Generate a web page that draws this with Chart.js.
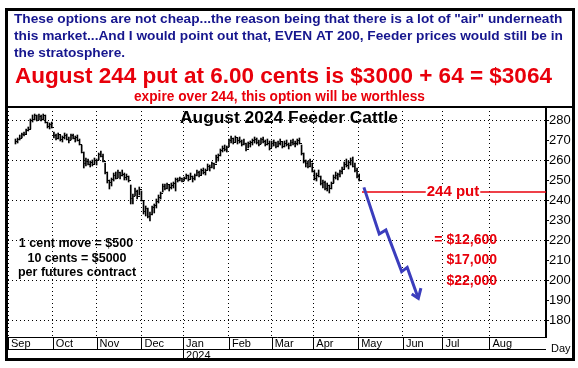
<!DOCTYPE html>
<html>
<head>
<meta charset="utf-8">
<script src="https://cdn.jsdelivr.net/npm/chart.js@4.4.1/dist/chart.umd.min.js"></script>
<style>
  html, body { margin: 0; padding: 0; background: #fff; }
  canvas { display: block; }
</style>
</head>
<body>
<canvas id="chart" width="578" height="368"></canvas>
<script>
// trading-day index of each month start (Sep 2023 .. Aug 2024)
const monthStarts = [0, 21, 41.5, 62.5, 82, 103.5, 123.5, 143, 164, 185, 203.5, 225.5];
const monthLabels = ["Sep", "Oct", "Nov", "Dec", ["Jan", "2024"], "Feb", "Mar", "Apr", "May", "Jun", "Jul", "Aug"];
const priceTicks = [180, 190, 200, 210, 220, 230, 240, 250, 260, 270, 280];

// daily bars, first one on day index 3.5
const firstDay = 3.5;
const highs = [
  270.5, 271, 272.5, 273.5, 274, 275.5, 276.5, 280.5, 282.5, 283,
  282.5, 283, 282.5, 283, 282.5, 279, 278.5, 279, 274, 273,
  273.5, 272.5, 272, 273.5, 273, 271.5, 273, 273, 272, 272.5,
  270.5, 267.5, 264, 261, 260.5, 259.5, 260, 261, 260.5, 263.5,
  264.5, 263, 258.5, 254, 250, 251, 253.5, 254, 255, 254,
  255, 253.5, 253, 252, 247.5, 243, 246, 245, 246.5, 244.5,
  239.5, 237, 236, 234, 237, 238, 240.5, 242.5, 244, 248,
  248, 248.5, 247.5, 248.5, 249, 251, 251, 251.5, 251, 251.5,
  253, 252.5, 253.5, 252, 253, 255, 254.5, 255.5, 256, 255.5,
  258, 257.5, 259, 258.5, 262.5, 263, 265.5, 267, 267.5, 267,
  270.5, 272, 271, 272, 271, 271.5, 270, 270.5, 268.5, 269,
  269.5, 270.5, 271.5, 271, 270, 271, 271.5, 270, 270.5, 269.5,
  269.5, 270, 269, 269.5, 270.5, 269, 269.5, 270, 268.5, 270,
  270.5, 269.5, 270.5, 271, 267.5, 263.5, 260, 259.5, 260.5, 258.5,
  255, 253.5, 255, 252, 250, 249.5, 248.5, 247.5, 249, 252.5,
  254, 253.5, 255, 256.5, 259, 260.5, 259.5, 261, 261.5, 258.5,
  256, 253
];
const lows = [
  268, 268.5, 270, 271, 272, 273, 274.5, 275.5, 279, 280,
  279.5, 280, 279.5, 280, 278.5, 276, 275.5, 276, 271, 270,
  270.5, 269.5, 269, 270.5, 270, 268.5, 270, 270.5, 269, 269.5,
  267.5, 263.5, 256, 257, 257.5, 256.5, 257, 258, 257.5, 260,
  261.5, 259, 253, 248.5, 245.5, 247, 249.5, 250.5, 251, 250.5,
  252, 250, 250, 249, 238, 238, 242, 240.5, 242.5, 239.5,
  233, 232, 231, 229.5, 232.5, 233.5, 236, 238.5, 240.5, 244,
  245, 245.5, 244.5, 245.5, 246, 244.5, 249, 249.5, 249, 249.5,
  250.5, 249.5, 250.5, 249, 250, 252, 251.5, 252.5, 253, 252.5,
  255, 254.5, 256, 255.5, 258.5, 259.5, 262, 264, 264.5, 264,
  266.5, 268.5, 268, 269, 268, 268.5, 267, 267.5, 264.5, 266,
  266.5, 267.5, 268.5, 268, 267, 268, 268.5, 267, 267.5, 265,
  266.5, 267, 266, 266.5, 267.5, 266, 266.5, 267, 265.5, 267,
  267.5, 266.5, 267.5, 268, 262.5, 258.5, 256.5, 256, 256.5, 254,
  250, 249.5, 251.5, 247.5, 246, 245, 244.5, 243.5, 245.5, 248.5,
  250.5, 250, 251.5, 253, 255.5, 256.5, 255.5, 257.5, 256.5, 254,
  251, 249.5
];
const closes = [
  269.5, 270.5, 271, 273, 273, 275, 275.5, 280, 280.5, 282.5,
  280, 282, 280.5, 282.5, 279, 277, 278, 276.5, 272.5, 271,
  273, 270.5, 271.5, 272.5, 270.5, 270, 272.5, 271, 271.5, 270,
  268, 264, 258.5, 259.5, 258, 259, 258, 260, 260, 263,
  262, 259.5, 254, 250, 249, 250.5, 252.5, 251, 254, 252.5,
  253, 251.5, 252, 250, 241, 242, 244.5, 242, 245.5, 240,
  234.5, 236, 232, 233, 236.5, 237.5, 239.5, 241.5, 243.5, 247,
  246, 248, 246.5, 247.5, 248.5, 250.5, 250, 251, 249.5, 251,
  252.5, 250.5, 252, 251, 252.5, 254, 252.5, 255, 254, 255,
  257, 256.5, 258.5, 258, 261.5, 262.5, 265, 266, 265.5, 266.5,
  270, 271, 269, 271.5, 270, 269.5, 268, 268.5, 265.5, 268.5,
  269, 270, 270.5, 269, 268, 270.5, 269.5, 268, 268.5, 266,
  268.5, 269, 267, 268.5, 269.5, 267, 268.5, 268, 267.5, 269,
  268.5, 268.5, 270, 268.5, 263.5, 259.5, 258.5, 257, 259.5, 254.5,
  251, 252.5, 252, 248.5, 249, 246, 247.5, 246, 248.5, 251.5,
  252.5, 253, 254.5, 255.5, 258, 257.5, 259, 260, 257, 255,
  252, 250
];

// hand-drawn projection and the 244 put strike
const arrowX = [166.7, 173.9, 177, 184.4, 187, 192.2];
const arrowY = [246.3, 223, 225, 204.2, 206.3, 190.8];
const headX = [189.1, 192.2, 193.4];
const headY = [193, 190.8, 195.9];
const strike = 244;
const strikeFrom = 165.8;

const bars = highs.map((h, i) => ({ x: firstDay + i, y: [lows[i], h] }));
const closePts = closes.map((c, i) => ({ x: firstDay + i, y: c }));
const arrow = arrowX.map((x, i) => ({ x: x, y: arrowY[i] }));
const head = headX.map((x, i) => ({ x: x, y: headY[i] }));

// little tick to the right of each bar for the close
const closeTick = document.createElement("canvas");
closeTick.width = 5;
closeTick.height = 1;
const tctx = closeTick.getContext("2d");
tctx.fillStyle = "#000";
tctx.fillRect(3, 0, 2, 1);

const RED = "#e8000b";
const NAVY = "#16168e";
const BLUE = "#3b3dbd";
const SANS = "'Liberation Sans', Arial, sans-serif";

function fitFont(ctx, text, weight, width) {
  ctx.font = weight + " 100px " + SANS;
  const w = ctx.measureText(text).width;
  return weight + " " + (100 * width / w).toFixed(2) + "px " + SANS;
}

const decor = {
  id: "decor",
  afterDraw(chart) {
    const ctx = chart.ctx;
    const a = chart.chartArea;
    const xs = chart.scales.x;
    ctx.save();

    // date row
    ctx.strokeStyle = "#000";
    ctx.lineWidth = 1;
    ctx.beginPath();
    ctx.moveTo(a.left, 349.5);
    ctx.lineTo(a.right, 349.5);
    monthStarts.forEach((m, i) => {
      const px = Math.round(xs.getPixelForValue(m)) + 0.5;
      ctx.moveTo(px, a.bottom);
      ctx.lineTo(px, Array.isArray(monthLabels[i]) ? 360 : 349.5);
    });
    ctx.stroke();

    ctx.fillStyle = "#000";
    ctx.font = "11px " + SANS;
    ctx.textAlign = "left";
    ctx.textBaseline = "middle";
    ctx.fillText("Day", 551, 349);

    // frame
    ctx.fillRect(5, a.top - 1, 570, 2);
    ctx.lineWidth = 3;
    ctx.strokeRect(6.5, 9.5, 567, 350);

    // header notes
    const l1 = "These options are not cheap...the reason being that there is a lot of \"air\" underneath";
    ctx.fillStyle = NAVY;
    ctx.font = fitFont(ctx, l1, "bold", 549);
    ctx.fillText(l1, 14, 19);
    ctx.fillText("this market...And I would point out that, EVEN AT 200, Feeder prices would still be in", 14, 36);
    ctx.fillText("the stratosphere.", 14, 53);

    const l4 = "August 244 put at 6.00 cents is $3000 + 64 = $3064";
    ctx.fillStyle = RED;
    ctx.font = fitFont(ctx, l4, "bold", 537);
    ctx.fillText(l4, 15, 77);
    const l5 = "expire over 244, this option will be worthless";
    ctx.font = fitFont(ctx, l5, "bold", 291);
    ctx.fillText(l5, 134, 97);

    // chart title
    const t = "August 2024 Feeder Cattle";
    ctx.fillStyle = "#000";
    ctx.font = fitFont(ctx, t, "bold", 218);
    ctx.textAlign = "center";
    ctx.fillText(t, 289, 118);

    // contract notes
    ctx.font = "bold 12.5px " + SANS;
    ctx.fillText("1 cent move = $500", 76, 244);
    ctx.fillText("10 cents = $5000", 77, 259);
    ctx.fillText("per futures contract", 77, 273);

    // strike label
    ctx.font = "bold 15px " + SANS;
    const w = ctx.measureText("244 put").width;
    const ys = chart.scales.y;
    const sy = ys.getPixelForValue(strike);
    ctx.fillStyle = "#fff";
    ctx.fillRect(453 - w / 2 - 1, sy - 8, w + 2, 16);
    ctx.fillStyle = RED;
    ctx.fillText("244 put", 453, sy);

    // option values
    ctx.font = "bold 14px " + SANS;
    ctx.textAlign = "right";
    ctx.fillText("= $12,600", 497, ys.getPixelForValue(220));
    ctx.fillText("$17,000", 497, ys.getPixelForValue(210));
    ctx.fillText("$22,000", 497, ys.getPixelForValue(199.5));

    ctx.restore();
  }
};

new Chart(document.getElementById("chart"), {
  type: "bar",
  data: {
    datasets: [
      {
        type: "line",
        data: head,
        borderColor: BLUE,
        borderWidth: 3,
        pointRadius: 0,
        tension: 0
      },
      {
        type: "line",
        data: arrow,
        borderColor: BLUE,
        borderWidth: 3,
        pointRadius: 0,
        tension: 0
      },
      {
        type: "line",
        data: [{ x: strikeFrom, y: strike }, { x: 252, y: strike }],
        borderColor: RED,
        borderWidth: 1.5,
        pointRadius: 0
      },
      {
        type: "line",
        data: closePts,
        showLine: false,
        pointStyle: closeTick,
        pointRadius: 1
      },
      {
        type: "bar",
        data: bars,
        backgroundColor: "#000",
        barThickness: 1,
        grouped: false
      }
    ]
  },
  options: {
    responsive: false,
    animation: false,
    devicePixelRatio: 1,
    layout: { padding: { top: 107, left: 8, right: 5, bottom: 7 } },
    plugins: {
      legend: { display: false },
      tooltip: { enabled: false }
    },
    scales: {
      x: {
        type: "linear",
        offset: false,
        min: 0,
        max: 252,
        afterBuildTicks: s => { s.ticks = monthStarts.map(v => ({ value: v })); },
        afterFit: s => { s.height = 24; },
        ticks: {
          autoSkip: false,
          maxRotation: 0,
          align: "start",
          labelOffset: 3,
          padding: 1,
          color: "#000",
          font: { family: SANS, size: 11, lineHeight: 1.1 },
          callback: (v, i) => monthLabels[i]
        },
        grid: { offset: false, color: "#000", lineWidth: 1, drawTicks: false },
        border: { display: true, color: "#000", width: 1, dash: [1, 3] }
      },
      y: {
        position: "right",
        min: 171.5,
        max: 286.5,
        afterBuildTicks: s => { s.ticks = priceTicks.map(v => ({ value: v })); },
        afterFit: s => { s.width = 27; },
        ticks: {
          padding: 0,
          color: "#000",
          font: { family: SANS, size: 13 }
        },
        grid: {
          color: c => (c.tick && c.tick.value % 20 === 0) ? "#000" : "rgba(0,0,0,0)",
          tickColor: "#000",
          tickLength: 3,
          lineWidth: 1
        },
        border: { display: true, color: "#000", width: 2, dash: [1, 3] }
      }
    }
  },
  plugins: [decor]
});
</script>
</body>
</html>
